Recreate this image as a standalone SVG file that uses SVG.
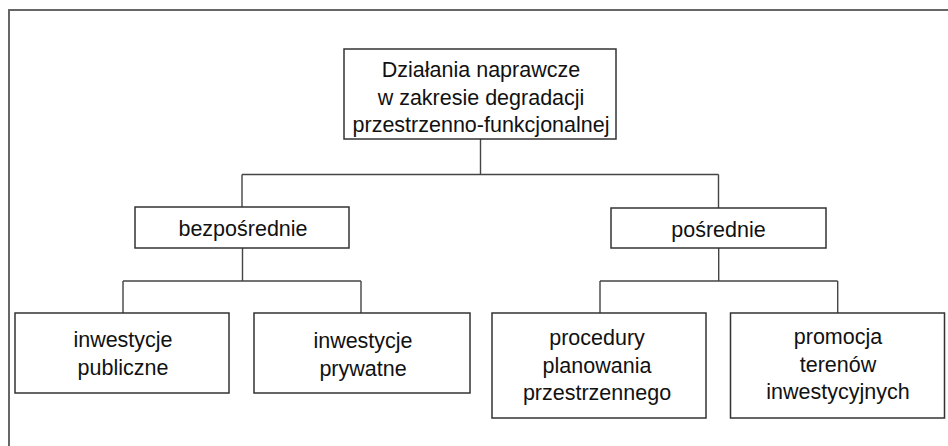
<svg xmlns="http://www.w3.org/2000/svg" width="948" height="446" viewBox="0 0 948 446">
<style>
.frame{fill:none;stroke:#666;stroke-width:2}
.box{fill:#fff;stroke:#333;stroke-width:1.5}
.conn{fill:none;stroke:#444;stroke-width:1.4}
text{font-family:"Liberation Sans",Arial,sans-serif;font-size:21.5px;fill:#111;text-anchor:middle}
</style>
<rect x="0" y="0" width="948" height="446" fill="#fff"/>
<rect class="frame" x="9" y="10" width="960" height="460"/>
<g id="connectors">
<path class="conn" d="M480.5,139 V174.5 M242,174.5 H718.5 M242,174.5 V207 M718.5,174.5 V208"/>
<path class="conn" d="M242.5,248 V281 M123,281 H361 M123,281 V313 M361,281 V313"/>
<path class="conn" d="M718.7,248 V281 M600,281 H837.7 M600,281 V313 M837.7,281 V313"/>
</g>
<g id="root">
<rect class="box" x="344" y="49" width="272" height="90"/>
<text x="481" y="77">Działania naprawcze</text>
<text x="481" y="104.5">w zakresie degradacji</text>
<text x="481" y="132">przestrzenno-funkcjonalnej</text>
</g>
<g id="bezposrednie">
<rect class="box" x="135" y="207" width="214" height="41"/>
<text x="243" y="236">bezpośrednie</text>
</g>
<g id="posrednie">
<rect class="box" x="611" y="208" width="215" height="40"/>
<text x="718.5" y="237">pośrednie</text>
</g>
<g id="publiczne">
<rect class="box" x="15" y="313" width="214" height="80"/>
<text x="123" y="347">inwestycje</text>
<text x="123" y="375">publiczne</text>
</g>
<g id="prywatne">
<rect class="box" x="254" y="313" width="216" height="80"/>
<text x="363" y="348">inwestycje</text>
<text x="363" y="376">prywatne</text>
</g>
<g id="procedury">
<rect class="box" x="492" y="313" width="214" height="105"/>
<text x="597" y="345">procedury</text>
<text x="597" y="372.5">planowania</text>
<text x="597" y="400">przestrzennego</text>
</g>
<g id="promocja">
<rect class="box" x="730.5" y="313" width="214" height="105"/>
<text x="838" y="344">promocja</text>
<text x="838" y="371.5">terenów</text>
<text x="838" y="399">inwestycyjnych</text>
</g>
</svg>
